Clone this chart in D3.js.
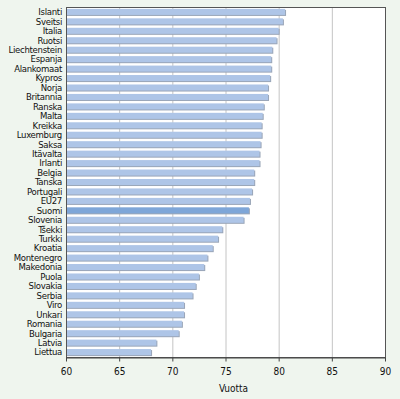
<!DOCTYPE html>
<html>
<head>
<meta charset="utf-8">
<script src="https://cdn.jsdelivr.net/npm/d3@7"></script>
<style>
  html, body { margin: 0; padding: 0; background: #eff5ee; }
  #chart text { font-family: "DejaVu Sans Condensed", "Liberation Sans Narrow", sans-serif; }
</style>
</head>
<body>
<div id="chart"></div>
<script>
const countries = [
  'Islanti', 'Sveitsi', 'Italia', 'Ruotsi', 'Liechtenstein', 'Espanja', 'Alankomaat',
  'Kypros', 'Norja', 'Britannia', 'Ranska', 'Malta', 'Kreikka', 'Luxemburg', 'Saksa',
  'Itävalta', 'Irlanti', 'Belgia', 'Tanska', 'Portugali', 'EU27', 'Suomi', 'Slovenia',
  'Tšekki', 'Turkki', 'Kroatia', 'Montenegro', 'Makedonia', 'Puola', 'Slovakia',
  'Serbia', 'Viro', 'Unkari', 'Romania', 'Bulgaria', 'Latvia', 'Liettua'
];
const years = [
  80.6, 80.4, 80.0, 79.8, 79.4, 79.3, 79.3,
  79.2, 79.0, 79.0, 78.6, 78.5, 78.4, 78.4, 78.3,
  78.2, 78.2, 77.7, 77.7, 77.5, 77.3, 77.2, 76.7,
  74.7, 74.3, 73.8, 73.3, 73.0, 72.5, 72.2,
  71.9, 71.1, 71.1, 70.9, 70.6, 68.5, 68.0
];
const xTicks = [60, 65, 70, 75, 80, 85, 90];
const highlight = 'Suomi';
const xTitle = 'Vuotta';

const width = 400, height = 399;
const margin = { top: 7, right: 15, bottom: 42, left: 66 };
const innerW = width - margin.left - margin.right;
const innerH = height - margin.top - margin.bottom;

const data = countries.map((c, i) => ({ name: c, value: years[i] }));

const svg = d3.select('#chart')
  .append('svg')
  .attr('width', width)
  .attr('height', height);

const g = svg.append('g')
  .attr('transform', `translate(${margin.left},${margin.top})`);

const x = d3.scaleLinear().domain([60, 90]).range([0, innerW]);
const y = d3.scaleBand().domain(countries).range([0, innerH]).paddingInner(0.36).paddingOuter(0.2);

// plot background
g.append('rect')
  .attr('width', innerW)
  .attr('height', innerH)
  .attr('fill', '#ffffff');

// gridlines
g.selectAll('line.grid')
  .data(xTicks.slice(1, -1))
  .join('line')
  .attr('class', 'grid')
  .attr('x1', d => x(d) + 0.5)
  .attr('x2', d => x(d) + 0.5)
  .attr('y1', 0)
  .attr('y2', innerH)
  .attr('stroke', '#c4c4c4')
  .attr('stroke-width', 1);

// bar shadows
g.selectAll('rect.shadow')
  .data(data)
  .join('rect')
  .attr('class', 'shadow')
  .attr('x', x(60) + 1)
  .attr('y', d => y(d.name) + 1)
  .attr('width', d => x(d.value) - x(60))
  .attr('height', y.bandwidth())
  .attr('fill', '#9aa6b8');

// bars
g.selectAll('rect.bar')
  .data(data)
  .join('rect')
  .attr('class', 'bar')
  .attr('x', x(60))
  .attr('y', d => y(d.name))
  .attr('width', d => x(d.value) - x(60))
  .attr('height', y.bandwidth())
  .attr('fill', d => d.name === highlight ? '#7ea6d8' : '#aec5e7');

// frame
g.append('rect')
  .attr('x', 0.5)
  .attr('y', 0.5)
  .attr('width', innerW)
  .attr('height', innerH)
  .attr('fill', 'none')
  .attr('stroke', '#555')
  .attr('stroke-width', 1);

// x axis
const xAxis = g.append('g')
  .attr('transform', `translate(0,${innerH + 0.5})`)
  .call(d3.axisBottom(x).tickValues(xTicks).tickSize(4).tickSizeOuter(0));
xAxis.select('.domain').attr('stroke', '#444');
xAxis.selectAll('.tick line').attr('stroke', '#444');
xAxis.selectAll('.tick text')
  .attr('font-size', '10px')
  .attr('fill', '#111')
  .attr('dy', '1em');

// y labels
g.selectAll('text.lbl')
  .data(data)
  .join('text')
  .attr('class', 'lbl')
  .attr('x', -4)
  .attr('y', d => y(d.name) + y.bandwidth() / 2)
  .attr('dy', '0.35em')
  .attr('text-anchor', 'end')
  .attr('font-size', '9.5px')
  .attr('letter-spacing', '-0.3px')
  .attr('fill', '#111')
  .text(d => d.name);

// axis title
g.append('text')
  .attr('x', x(75) + 8)
  .attr('y', innerH + 35)
  .attr('text-anchor', 'middle')
  .attr('font-size', '10px')
  .attr('fill', '#111')
  .text(xTitle);
</script>
</body>
</html>
